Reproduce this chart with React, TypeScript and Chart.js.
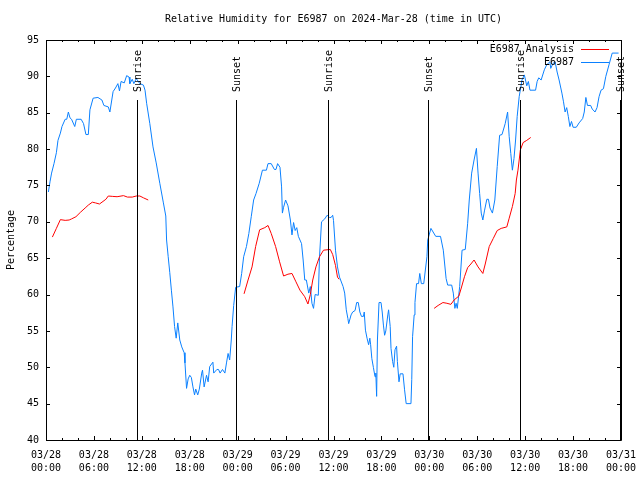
import React, { useEffect, useRef } from "react";
import { Chart, registerables } from "chart.js";

Chart.register(...registerables);

const TITLE = "Relative Humidity for E6987 on 2024-Mar-28 (time in UTC)";
const Y_LABEL = "Percentage";
const SERIES_NAMES = ["E6987 Analysis", "E6987"];
const SERIES_COLORS = ["#ff0000", "#0a80ff"];
const DAY_LABELS = ["03/28", "03/29", "03/30", "03/31"];
const X_MIN = 0;
const X_MAX = 72;
const X_STEP = 6;
const X_MINOR_STEP = 2;
const Y_MIN = 40;
const Y_MAX = 95;
const Y_STEP = 5;

// Observation series (hours since 2024-03-28 00:00 UTC)
const obsHours = [
  0.3, 0.5, 0.7, 1.0, 1.3, 1.5, 1.8, 2.0, 2.4, 2.6, 2.8, 3.0, 3.2, 3.6, 3.8, 4.4, 4.7, 5.0, 5.3, 5.5,
  5.9, 6.5, 7.0, 7.25, 7.8, 8.0, 8.4, 8.7, 9.0, 9.2, 9.4, 9.8, 10.1, 10.4, 10.5, 10.8, 11.0, 11.3, 11.75, 12.2,
  12.4, 12.6, 13.0, 13.4, 13.8, 14.25, 14.7, 15.0, 15.1, 15.3, 15.5, 15.7, 15.9, 16.1, 16.3, 16.5, 16.75, 17.0, 17.3, 17.4,
  17.6, 17.8, 18.0, 18.2, 18.4, 18.6, 18.75, 19.0, 19.2, 19.5, 19.6, 19.8, 20.1, 20.3, 20.5, 20.9, 21.0, 21.4, 21.6, 21.8,
  22.1, 22.4, 22.6, 22.8, 23.0, 23.2, 23.3, 23.5, 23.75, 24.25, 24.5, 24.75, 25.1, 25.4, 25.7, 26.0, 26.3, 26.7, 27.1, 27.6,
  27.8, 28.2, 28.6, 28.8, 29.0, 29.3, 29.5, 29.6, 29.75, 30.0, 30.3, 30.6, 30.8, 31.0, 31.2, 31.4, 31.6, 32.0, 32.2, 32.4,
  32.6, 32.9, 33.1, 33.3, 33.5, 33.7, 34.1, 34.25, 34.5, 34.9, 35.2, 35.5, 35.7, 35.9, 36.0, 36.25, 36.5, 36.75, 37.2, 37.4,
  37.6, 37.8, 37.9, 38.2, 38.4, 38.7, 38.9, 39.1, 39.3, 39.5, 39.75, 39.85, 40.0, 40.2, 40.4, 40.55, 40.65, 40.8, 41.0, 41.2,
  41.3, 41.4, 41.5, 41.7, 41.95, 42.1, 42.25, 42.4, 42.55, 42.8, 42.9, 43.1, 43.2, 43.4, 43.55, 43.7, 43.9, 44.0, 44.2, 44.35,
  44.7, 44.9, 45.1, 45.7, 45.8, 45.9, 46.1, 46.2, 46.4, 46.65, 46.8, 47.0, 47.3, 47.7, 47.8, 48.2, 48.8, 49.4, 49.75, 50.1,
  50.3, 50.8, 51.0, 51.2, 51.35, 51.5, 51.8, 52.1, 52.5, 52.8, 53.0, 53.3, 53.6, 53.9, 54.1, 54.3, 54.5, 54.7, 54.9, 55.2,
  55.4, 55.6, 55.9, 56.2, 56.5, 56.8, 57.1, 57.5, 57.8, 58.0, 58.2, 58.4, 58.6, 58.8, 59.0, 59.25, 59.6, 59.9, 60.2, 60.4,
  60.6, 61.3, 61.5, 61.7, 62.0, 62.4, 62.7, 63.1, 63.2, 63.5, 63.75, 64.0, 64.25, 64.6, 64.8, 65.0, 65.2, 65.4, 65.6, 65.8,
  66.0, 66.4, 66.75, 67.2, 67.4, 67.6, 67.8, 68.2, 68.4, 68.75, 69.0, 69.25, 69.5, 69.8, 70.1, 70.5, 70.9, 71.7,
];
const obsValues = [
  74.1, 75.5, 76.7, 78.0, 79.5, 81.2, 82.2, 83.1, 84.1, 84.1, 85.1, 84.3, 84.1, 83.1, 84.1, 84.1, 83.5, 82.0, 82.0, 85.4,
  87.0, 87.1, 86.75, 86.0, 85.8, 85.1, 87.9, 88.4, 89.0, 88.0, 89.3, 89.1, 90.1, 89.9, 89.0, 89.6, 89.0, 89.7, 89.0, 88.8,
  88.1, 86.3, 83.5, 80.3, 78.1, 75.3, 72.6, 70.8, 67.5, 65.2, 63.0, 60.6, 58.3, 55.6, 54.0, 56.1, 53.75, 52.8, 52.0, 50.6,
  47.1, 48.4, 48.9, 48.6, 47.3, 46.2, 47.0, 46.2, 47.0, 49.2, 49.6, 47.3, 48.9, 48.0, 50.1, 50.7, 49.2, 49.7, 49.7, 49.2,
  49.7, 49.2, 50.6, 51.9, 51.0, 53.75, 55.6, 58.5, 61.0, 61.1, 62.9, 65.2, 66.6, 68.4, 70.7, 73.0, 73.9, 75.3, 77.1, 77.1,
  78.0, 78.0, 77.2, 77.2, 78.0, 77.5, 74.8, 71.2, 72.0, 73.0, 72.2, 70.25, 68.2, 69.9, 68.8, 69.2, 68.0, 67.0, 64.75, 62.0,
  62.0, 60.2, 61.1, 58.8, 58.1, 60.0, 59.9, 65.2, 70.0, 70.4, 70.9, 70.6, 70.6, 70.9, 70.2, 66.1, 63.8, 62.4, 61.1, 60.2,
  57.9, 56.7, 56.0, 57.2, 57.6, 57.8, 58.9, 58.9, 57.6, 57.0, 57.0, 57.6, 55.1, 54.0, 53.1, 54.0, 53.1, 51.2, 49.95, 48.7,
  49.2, 46.0, 53.75, 58.9, 58.9, 57.6, 55.8, 54.4, 55.0, 57.2, 57.9, 55.6, 52.6, 50.8, 50.0, 52.4, 52.9, 50.8, 48.0, 49.1,
  49.1, 46.9, 45.0, 45.0, 48.3, 54.2, 57.2, 58.9, 61.5, 61.5, 62.9, 61.5, 61.5, 65.2, 67.5, 69.1, 68.0, 68.0, 66.1, 62.2,
  61.3, 61.3, 60.2, 58.1, 58.8, 58.1, 61.1, 66.1, 66.2, 69.8, 73.0, 76.7, 78.5, 80.1, 76.7, 73.9, 71.2, 70.25, 71.5, 73.1,
  73.1, 71.9, 71.2, 73.0, 77.6, 81.9, 82.0, 83.5, 85.1, 81.7, 79.4, 77.1, 78.7, 81.25, 84.5, 87.2, 89.5, 90.2, 88.7, 89.3,
  88.1, 88.1, 89.3, 89.8, 89.5, 90.9, 91.6, 92.0, 91.1, 91.8, 92.0, 90.6, 89.5, 87.7, 86.5, 85.1, 85.7, 84.5, 83.1, 83.8,
  83.0, 83.0, 83.6, 84.2, 85.1, 87.1, 86.0, 86.0, 85.5, 85.1, 85.7, 87.2, 88.1, 88.3, 90.0, 91.6, 93.2, 93.2,
];

// Analysis series (null = gap between analysis runs)
const anaHours = [
  0.8, 1.3, 1.8, 2.4, 2.9, 3.2, 3.75, 4.3, 4.9, 5.3, 5.8, 6.2, 6.7, 7.5, 7.8, 8.3, 8.9, 9.7, 10.2, 10.8,
  11.3, 11.75, 12.2, 12.8, 18.0,
  24.8, 25.3, 25.8, 26.25, 26.75, 27.4, 27.8, 28.2, 28.75, 29.25, 29.75, 30.3, 30.8, 31.3, 31.8, 32.4, 32.8, 33.1, 33.4, 33.8,
  34.25, 34.75, 35.6, 35.9, 36.25, 36.5, 36.7, 42.0,
  48.6, 49.1, 49.7, 50.2, 50.7, 51.1, 51.7, 52.0, 52.4, 52.8, 53.2, 53.6, 54.1, 54.7, 55.0, 55.5, 56.0, 56.5, 57.0, 57.7,
  58.0, 58.4, 58.75, 58.9, 59.1, 59.25, 59.4, 59.75, 60.2, 60.7,
];
const anaValues = [
  67.9, 69.1, 70.3, 70.2, 70.25, 70.4, 70.7, 71.3, 71.9, 72.3, 72.7, 72.6, 72.45, 73.1, 73.55, 73.5, 73.45, 73.6, 73.4, 73.4,
  73.55, 73.55, 73.3, 73.0, null,
  60.1, 62.0, 63.8, 66.6, 68.9, 69.2, 69.5, 68.4, 66.6, 64.5, 62.55, 62.8, 62.9, 61.75, 60.6, 59.7, 58.7, 60.0, 62.0, 63.8,
  65.2, 66.1, 66.2, 65.5, 64.0, 62.4, 62.1, null,
  58.1, 58.5, 58.9, 58.8, 58.65, 59.25, 59.8, 60.9, 62.45, 63.7, 64.2, 64.75, 63.8, 62.9, 64.2, 66.6, 67.7, 68.8, 69.1, 69.3,
  70.5, 72.1, 73.9, 75.75, 77.1, 78.5, 79.9, 80.9, 81.2, 81.6,
];

const sunEventNames = ["Sunrise", "Sunset", "Sunrise", "Sunset", "Sunrise", "Sunset"];
const sunEventHours = [11.4, 23.8, 35.3, 47.85, 59.4, 71.87];
const SUN_LINE_TOP = 86.8;

const FONT = "'DejaVu Sans Mono', 'Liberation Mono', monospace";

function tickLabel(v: number): string[] {
  const day = Math.floor(v / 24);
  const hh = Math.round(v - day * 24);
  return [DAY_LABELS[day] ?? "", String(hh).padStart(2, "0") + ":00"];
}

const decorPlugin = {
  id: "decor",
  afterDatasetsDraw(chart: any) {
    const { ctx, chartArea } = chart;
    const xs = chart.scales.x;
    const ys = chart.scales.y;
    const L = chartArea.left, R = chartArea.right, T = chartArea.top, B = chartArea.bottom;
    ctx.save();
    ctx.strokeStyle = "#000";
    ctx.lineWidth = 1;
    // frame
    ctx.beginPath();
    ctx.rect(L + 0.5, T + 0.5, R - L, B - T);
    ctx.stroke();
    // ticks (inward, mirrored)
    ctx.beginPath();
    for (let v = X_MIN; v <= X_MAX; v += X_MINOR_STEP) {
      const px = Math.round(xs.getPixelForValue(v)) + 0.5;
      const len = v % X_STEP === 0 ? 4 : 2;
      ctx.moveTo(px, B);
      ctx.lineTo(px, B - len);
      ctx.moveTo(px, T);
      ctx.lineTo(px, T + len);
    }
    for (let v = Y_MIN; v <= Y_MAX; v += Y_STEP) {
      const py = Math.round(ys.getPixelForValue(v)) + 0.5;
      ctx.moveTo(L, py);
      ctx.lineTo(L + 4, py);
      ctx.moveTo(R, py);
      ctx.lineTo(R - 4, py);
    }
    ctx.stroke();
    // sunrise / sunset lines
    const yTop = Math.round(ys.getPixelForValue(SUN_LINE_TOP));
    ctx.beginPath();
    sunEventHours.forEach((h) => {
      const px = Math.round(xs.getPixelForValue(h)) + 0.5;
      ctx.moveTo(px, yTop);
      ctx.lineTo(px, B);
    });
    ctx.stroke();
    ctx.fillStyle = "#000";
    ctx.font = "10px " + FONT;
    ctx.textAlign = "left";
    ctx.textBaseline = "middle";
    sunEventHours.forEach((h, i) => {
      const px = Math.round(xs.getPixelForValue(h)) + 1;
      ctx.save();
      ctx.translate(px, yTop - 8);
      ctx.rotate(-Math.PI / 2);
      ctx.fillText(sunEventNames[i], 0, 0);
      ctx.restore();
    });
    // title, centred over the plot area
    ctx.textAlign = "center";
    ctx.fillText(TITLE, (L + R) / 2, 19);
    // legend
    ctx.textAlign = "right";
    SERIES_NAMES.forEach((name, i) => {
      const y = T + 9 + i * 13;
      ctx.fillStyle = "#000";
      ctx.fillText(name, R - 47, y);
      ctx.strokeStyle = SERIES_COLORS[i];
      ctx.beginPath();
      ctx.moveTo(R - 40, y + 0.5);
      ctx.lineTo(R - 12, y + 0.5);
      ctx.stroke();
    });
    ctx.restore();
  },
};

export default function App() {
  const ref = useRef<HTMLCanvasElement | null>(null);
  useEffect(() => {
    if (!ref.current) return;
    const anaData = anaHours.map((h, i) => ({ x: h, y: anaValues[i] }));
    const obsData = obsHours.map((h, i) => ({ x: h, y: obsValues[i] }));
    const chart = new Chart(ref.current, {
      type: "line",
      data: {
        datasets: [
          {
            label: SERIES_NAMES[0],
            data: anaData as any,
            borderColor: SERIES_COLORS[0],
            borderWidth: 1,
            pointRadius: 0,
            tension: 0,
            spanGaps: false,
            fill: false,
          },
          {
            label: SERIES_NAMES[1],
            data: obsData as any,
            borderColor: SERIES_COLORS[1],
            borderWidth: 1,
            pointRadius: 0,
            tension: 0,
            fill: false,
          },
        ],
      },
      options: {
        animation: false,
        responsive: false,
        maintainAspectRatio: false,
        layout: { padding: { left: 0, right: 19, top: 40, bottom: 0 } },
        plugins: {
          legend: { display: false },
          tooltip: { enabled: false },
          title: { display: false },
        },
        scales: {
          x: {
            type: "linear",
            min: X_MIN,
            max: X_MAX,
            grid: { display: false, drawTicks: false },
            border: { display: false },
            ticks: {
              stepSize: X_STEP,
              autoSkip: false,
              maxRotation: 0,
              padding: 9,
              color: "#000",
              font: { family: FONT, size: 10, lineHeight: 1.3 },
              callback: (v: any) => tickLabel(Number(v)),
            },
            afterFit: (s: any) => {
              s.height = 40;
              s.paddingLeft = 0;
              s.paddingRight = 0;
            },
          },
          y: {
            type: "linear",
            min: Y_MIN,
            max: Y_MAX,
            grid: { display: false, drawTicks: false },
            border: { display: false },
            ticks: {
              stepSize: Y_STEP,
              padding: 7,
              color: "#000",
              font: { family: FONT, size: 10 },
            },
            title: {
              display: true,
              text: Y_LABEL,
              color: "#000",
              font: { family: FONT, size: 10, lineHeight: 1.2 },
              padding: { top: 5, bottom: 0 },
            },
            afterFit: (s: any) => {
              s.width = 46;
              s.paddingTop = 0;
              s.paddingBottom = 0;
            },
          },
        },
      },
      plugins: [decorPlugin],
    });
    return () => chart.destroy();
  }, []);
  return (
    <div style={{ position: "absolute", left: 0, top: 0, width: 640, height: 480, background: "#fff" }}>
      <canvas ref={ref} width={640} height={480} style={{ display: "block" }} />
    </div>
  );
}
